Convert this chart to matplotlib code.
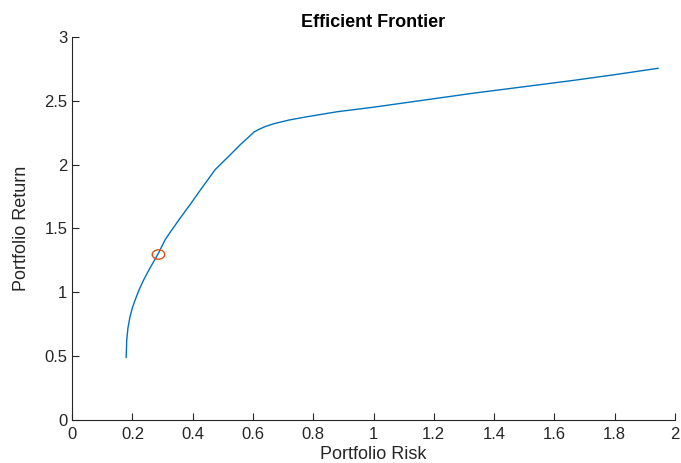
import matplotlib
matplotlib.use('Agg')
from matplotlib import pyplot as plt
from matplotlib.path import Path
from matplotlib.transforms import Affine2D

# Efficient frontier points (risk, return)
risk = [0.179, 0.180, 0.181, 0.185, 0.192, 0.200, 0.209, 0.222, 0.237, 0.250,
        0.264, 0.286, 0.308, 0.325, 0.358, 0.392, 0.425, 0.474, 0.534, 0.557,
        0.585, 0.603, 0.618, 0.640, 0.668, 0.720, 0.778, 0.880, 0.999, 1.165,
        1.331, 1.497, 1.662, 1.800, 1.944]
ret = [0.49, 0.55, 0.626, 0.72, 0.81, 0.88, 0.94, 1.02, 1.096, 1.155,
       1.214, 1.305, 1.41, 1.47, 1.58, 1.69, 1.80, 1.96, 2.10, 2.155,
       2.215, 2.255, 2.275, 2.298, 2.32, 2.35, 2.375, 2.415, 2.45, 2.505,
       2.56, 2.61, 2.66, 2.705, 2.755]
opt_risk = [0.286]
opt_ret = [1.30]

plt.rcParams['font.family'] = ['Liberation Sans', 'DejaVu Sans']
fig = plt.figure(figsize=(6.81, 4.63), dpi=100)
ax = fig.add_axes([0.106, 0.093, 0.885, 0.827])
ax.plot(risk, ret, color='#0072BD', linewidth=1.0)

# the reference marker is a flattened circle
oval = Path.unit_circle().transformed(Affine2D().scale(1.0, 0.75))
ax.plot(opt_risk, opt_ret, linestyle='none', marker=oval, markerfacecolor='none',
        markeredgecolor='#D95319', markersize=9, markeredgewidth=1.0)

ax.set_xlim(0, 2)
ax.set_ylim(0, 3)
ax.set_xticks([0, 0.2, 0.4, 0.6, 0.8, 1, 1.2, 1.4, 1.6, 1.8, 2])
ax.set_xticklabels(['0', '0.2', '0.4', '0.6', '0.8', '1', '1.2', '1.4', '1.6', '1.8', '2'])
ax.set_yticks([0, 0.5, 1, 1.5, 2, 2.5, 3])
ax.set_yticklabels(['0', '0.5', '1', '1.5', '2', '2.5', '3'])
ax.spines['top'].set_visible(False)
ax.spines['right'].set_visible(False)
ax.tick_params(axis='both', direction='in', length=5, labelsize=12, colors='#262626')
ax.tick_params(axis='x', pad=5)
ax.spines['left'].set_color('#262626')
ax.spines['bottom'].set_color('#262626')

ax.set_title("Efficient Frontier", fontsize=13, fontweight='bold', pad=7)
ax.set_xlabel("Portfolio Risk", fontsize=13, color='#262626', labelpad=3)
ax.set_ylabel("Portfolio Return", fontsize=13, color='#262626', labelpad=10)

fig.savefig('out.png', dpi=100)
